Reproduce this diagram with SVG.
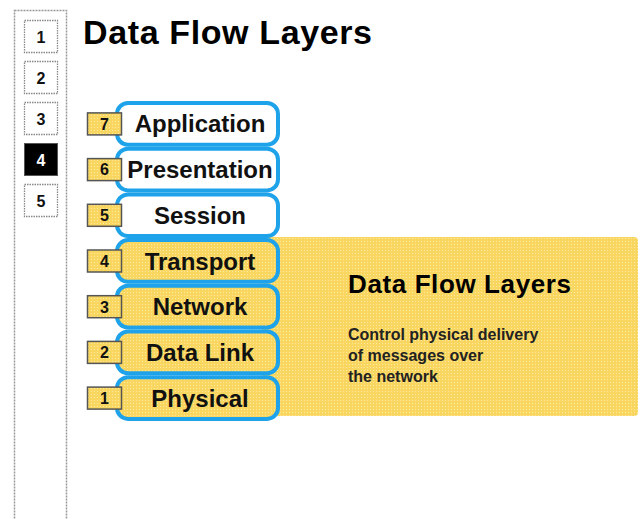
<svg xmlns="http://www.w3.org/2000/svg" width="642" height="519" viewBox="0 0 642 519">
<defs>
<pattern id="dots" width="3" height="3" patternUnits="userSpaceOnUse">
<rect width="3" height="3" fill="#f9d65f"/>
<rect x="1" y="1" width="1" height="1" fill="#fde99f"/>
</pattern>
<style>
.nav{fill:#fff;stroke:#888;stroke-width:1.3;stroke-dasharray:1.5 1}
.navt{font-family:"Liberation Sans",Arial,sans-serif;font-weight:bold;font-size:16px;text-anchor:middle;fill:#111}
.layer{stroke:#1ea3ea;stroke-width:4}
.lbl{font-family:"Liberation Sans",Arial,sans-serif;font-weight:bold;font-size:24px;text-anchor:middle;fill:#111}
.badge{fill:url(#dots);stroke:#555;stroke-width:1.5}
.bt{font-family:"Liberation Sans",Arial,sans-serif;font-weight:bold;font-size:16px;text-anchor:middle;fill:#111}
.title{font-family:"Liberation Sans",Arial,sans-serif;font-weight:bold;fill:#000}
.desc{font-family:"Liberation Sans",Arial,sans-serif;font-weight:bold;font-size:16px;fill:#222}
</style>
</defs>
<rect width="642" height="519" fill="#fff"/>

<g id="sidebar">
<rect x="14.5" y="10.5" width="52" height="520" fill="#fff" stroke="#999" stroke-width="1.5" stroke-dasharray="2 1"/>
</g>
<g id="nav1"><rect class="nav" x="24.5" y="20.5" width="33" height="32"/><text class="navt" x="41" y="42.5">1</text></g>
<g id="nav2"><rect class="nav" x="24.5" y="61.5" width="33" height="32"/><text class="navt" x="41" y="83.5">2</text></g>
<g id="nav3"><rect class="nav" x="24.5" y="102.5" width="33" height="32"/><text class="navt" x="41" y="124.5">3</text></g>
<g id="nav4"><rect x="24.5" y="143.5" width="33" height="32" fill="#000" stroke="#555" stroke-width="1"/><text class="navt" x="41" y="165.5" style="fill:#fff">4</text></g>
<g id="nav5"><rect class="nav" x="24.5" y="184.5" width="33" height="32"/><text class="navt" x="41" y="206.5">5</text></g>

<g id="title">
<text class="title" x="83" y="44" font-size="34" textLength="289" lengthAdjust="spacing">Data Flow Layers</text>
</g>

<g id="panel">
<rect x="262" y="237" width="376" height="179" rx="4" fill="url(#dots)"/>
<text class="title" x="348" y="293" font-size="26" textLength="223" lengthAdjust="spacing">Data Flow Layers</text>
<text class="desc" x="348" y="340">Control physical delivery</text>
<text class="desc" x="348" y="361">of messages over</text>
<text class="desc" x="348" y="382">the network</text>
</g>

<g id="layer7">
<rect class="layer" x="117" y="103" width="161" height="41.7" rx="11" fill="#fff"/>
<text class="lbl" x="200" y="132.4">Application</text>
<rect class="badge" x="87.5" y="112.9" width="34" height="22"/>
<text class="bt" x="104.5" y="129.7">7</text>
</g>
<g id="layer6">
<rect class="layer" x="117" y="148.7" width="161" height="41.7" rx="11" fill="#fff"/>
<text class="lbl" x="200" y="178.1">Presentation</text>
<rect class="badge" x="87.5" y="158.6" width="34" height="22"/>
<text class="bt" x="104.5" y="175.4">6</text>
</g>
<g id="layer5">
<rect class="layer" x="117" y="194.4" width="161" height="41.7" rx="11" fill="#fff"/>
<text class="lbl" x="200" y="223.8">Session</text>
<rect class="badge" x="87.5" y="204.3" width="34" height="22"/>
<text class="bt" x="104.5" y="221.1">5</text>
</g>
<g id="layer4">
<rect class="layer" x="117" y="240.1" width="161" height="41.7" rx="11" fill="url(#dots)"/>
<text class="lbl" x="200" y="269.5">Transport</text>
<rect class="badge" x="87.5" y="250" width="34" height="22"/>
<text class="bt" x="104.5" y="266.8">4</text>
</g>
<g id="layer3">
<rect class="layer" x="117" y="285.8" width="161" height="41.7" rx="11" fill="url(#dots)"/>
<text class="lbl" x="200" y="315.2">Network</text>
<rect class="badge" x="87.5" y="295.7" width="34" height="22"/>
<text class="bt" x="104.5" y="312.5">3</text>
</g>
<g id="layer2">
<rect class="layer" x="117" y="331.5" width="161" height="41.7" rx="11" fill="url(#dots)"/>
<text class="lbl" x="200" y="360.9">Data Link</text>
<rect class="badge" x="87.5" y="341.4" width="34" height="22"/>
<text class="bt" x="104.5" y="358.2">2</text>
</g>
<g id="layer1">
<rect class="layer" x="117" y="377.2" width="161" height="41.7" rx="11" fill="url(#dots)"/>
<text class="lbl" x="200" y="406.6">Physical</text>
<rect class="badge" x="87.5" y="387.1" width="34" height="22"/>
<text class="bt" x="104.5" y="403.9">1</text>
</g>
</svg>
